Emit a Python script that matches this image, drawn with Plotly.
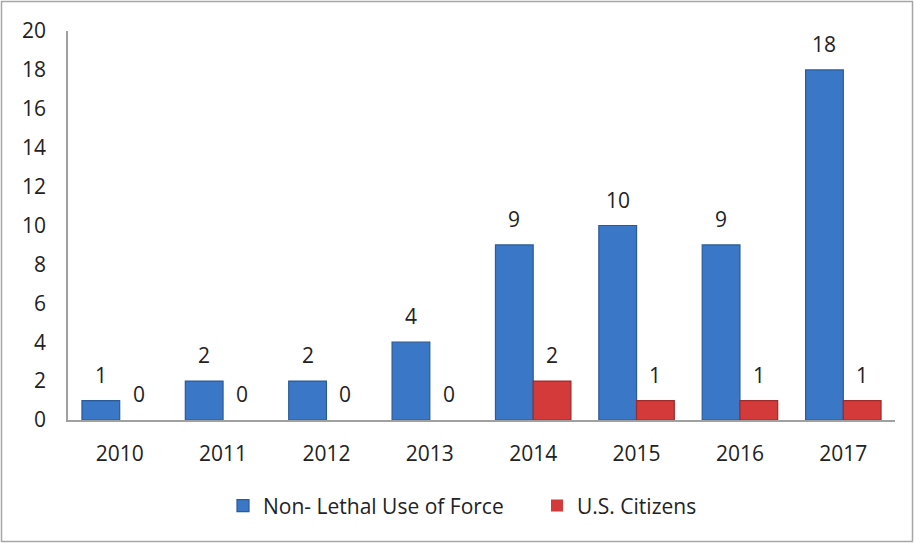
import plotly.graph_objects as go

years = ["2010", "2011", "2012", "2013", "2014", "2015", "2016", "2017"]
non_lethal = [1, 2, 2, 4, 9, 10, 9, 18]
us_citizens = [0, 0, 0, 0, 2, 1, 1, 1]
series_names = ["Non- Lethal Use of Force", "U.S. Citizens"]
y_ticks = [0, 2, 4, 6, 8, 10, 12, 14, 16, 18, 20]

FONT = "Open Sans"
FS = 21
BLUE = "#3a77c6"
BLUE_LINE = "#2b5a99"
RED = "#d43a3a"
RED_LINE = "#9e2a2a"
BARGAP = 0.27

W, H = 915, 545
ML, MR, MT, MB = 68, 20, 31, 125

def line_widths(vals):
    return [0 if v == 0 else 1.2 for v in vals]

fig = go.Figure()
fig.add_trace(go.Bar(x=years, y=non_lethal, name=series_names[0],
                     marker=dict(color=BLUE, line=dict(color=BLUE_LINE,
                                                       width=line_widths(non_lethal)))))
fig.add_trace(go.Bar(x=years, y=us_citizens, name=series_names[1],
                     marker=dict(color=RED, line=dict(color=RED_LINE,
                                                      width=line_widths(us_citizens)))))

# value labels above bars
bw = (1 - BARGAP) / 2
annotations = []
for i, (a, b) in enumerate(zip(non_lethal, us_citizens)):
    for val, off in ((a, -bw / 2), (b, bw / 2)):
        annotations.append(dict(x=i + off, y=val, xref="x", yref="y", text=str(val),
                                showarrow=False, yshift=26, yanchor="middle",
                                font=dict(family=FONT, size=FS, color="#222")))

pw = W - ML - MR
ph = H - MT - MB
shapes = [dict(type="rect", xref="paper", yref="paper",
               x0=(1.5 - ML) / pw, x1=(W - 2.5 - ML) / pw,
               y0=(H - MB - (H - 3.5)) / ph, y1=(H - MB - 1.5) / ph,
               line=dict(color="#a6a6a6", width=1.5), layer="below")]

fig.update_layout(
    width=W, height=H,
    margin=dict(l=ML, r=MR, t=MT, b=MB),
    paper_bgcolor="white", plot_bgcolor="white",
    barmode="group", bargap=BARGAP, bargroupgap=0,
    font=dict(family=FONT, size=FS, color="#222"),
    showlegend=True,
    legend=dict(orientation="h", x=(223 - ML) / pw, xanchor="left", y=-0.221, yanchor="middle",
                font=dict(family=FONT, size=FS, color="#222"), itemwidth=30,
                entrywidth=269, entrywidthmode="pixels", traceorder="normal"),
    annotations=annotations,
    shapes=shapes,
    xaxis=dict(type="category", showgrid=False, showline=True, linecolor="#a0a0a0",
               linewidth=1.5, ticks="", ticklabelstandoff=14, zeroline=False),
    yaxis=dict(range=[0, 20], tickvals=y_ticks, showgrid=False, showline=True,
               linecolor="#a0a0a0", linewidth=1.5, ticks="", ticklabelstandoff=16,
               zeroline=False),
)

fig.write_html("out.html", config={"displayModeBar": False},
               post_script="document.body.style.margin='0';")
